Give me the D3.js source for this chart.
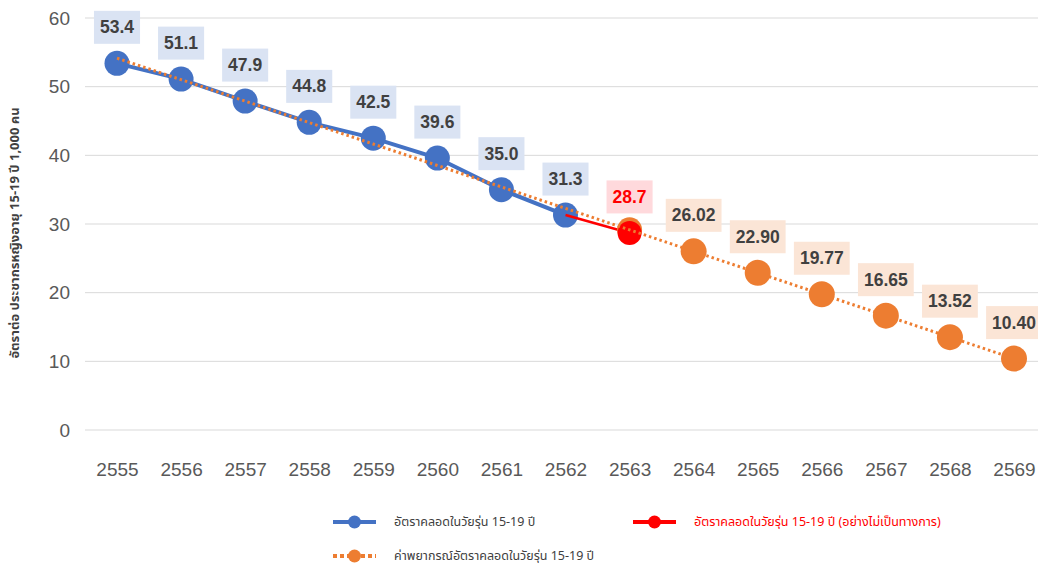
<!DOCTYPE html>
<meta charset="utf-8">
<style>
body { margin: 0; background: #fff; }
text { font-family: "Liberation Sans", Arial, sans-serif; }
</style>
<body>
<script src="https://cdn.jsdelivr.net/npm/d3@7/dist/d3.min.js"></script>
<script>

// data
var years = ["2555","2556","2557","2558","2559","2560","2561","2562","2563","2564","2565","2566","2567","2568","2569"];
var actual = [53.4, 51.1, 47.9, 44.8, 42.5, 39.6, 35.0, 31.3];          // 2555-2562
var unofficial = [31.3, 28.7];                                           // 2562-2563
var forecast = [54.15, 51.02, 47.90, 44.77, 41.65, 38.52, 35.40, 32.27,
                29.15, 26.02, 22.90, 19.77, 16.65, 13.52, 10.40];        // trend line
var forecastLabels = ["26.02","22.90","19.77","16.65","13.52","10.40"]; // 2564-2569
var yTicks = [0, 10, 20, 30, 40, 50, 60];

var thai = "Tahoma, 'Noto Sans Thai', 'Leelawadee UI', sans-serif";

var width = 1038, height = 566;

var svg = d3.select("body").append("svg")
    .attr("width", width)
    .attr("height", height);

var x = d3.scalePoint().domain(years).range([117, 1014]);
var y = d3.scaleLinear().domain([0, 60]).range([430, 18]);

// gridlines
svg.append("g")
    .selectAll("line")
    .data(yTicks)
  .enter().append("line")
    .attr("x1", 85).attr("x2", 1038)
    .attr("y1", function(d) { return y(d); })
    .attr("y2", function(d) { return y(d); })
    .style("stroke", "#d9d9d9")
    .style("stroke-width", 1);

// y axis labels
var yAxis = svg.append("g")
    .attr("transform", "translate(70,0)")
    .call(d3.axisLeft(y).tickValues(yTicks).tickSize(0).tickPadding(0));
yAxis.select(".domain").remove();
yAxis.selectAll("text")
    .style("font-size", "19px")
    .style("font-family", "'Liberation Sans', Arial, sans-serif")
    .style("fill", "#595959");

// x axis labels
var xAxis = svg.append("g")
    .attr("transform", "translate(0,462)")
    .call(d3.axisBottom(x).tickSize(0).tickPadding(0));
xAxis.select(".domain").remove();
xAxis.selectAll("text")
    .style("font-size", "19px")
    .style("font-family", "'Liberation Sans', Arial, sans-serif")
    .style("fill", "#595959");

// y axis title
svg.append("text")
    .attr("text-anchor", "middle")
    .attr("transform", "translate(19,233)rotate(-90)")
    .style("font-family", thai)
    .style("font-size", "13px")
    .style("font-weight", "bold")
    .style("fill", "#404040")
    .text("อัตราต่อ ประชากรหญิงอายุ 15-19 ปี 1,000 คน");

var line = d3.line()
    .x(function(d) { return x(d.year); })
    .y(function(d) { return y(d.v); });

var actualData = actual.map(function(v, i) { return {year: years[i], v: v}; });
var unofficialData = unofficial.map(function(v, i) { return {year: years[7 + i], v: v}; });
var forecastData = forecast.map(function(v, i) { return {year: years[i], v: v}; });

// blue series
svg.append("path")
    .datum(actualData)
    .attr("d", line)
    .style("fill", "none")
    .style("stroke", "#4472c4")
    .style("stroke-width", 4);

svg.selectAll(".dot-blue")
    .data(actualData)
  .enter().append("circle")
    .attr("class", "dot-blue")
    .attr("r", 12.5)
    .attr("cx", function(d) { return x(d.year); })
    .attr("cy", function(d) { return y(d.v); })
    .style("fill", "#4472c4");

// red series
svg.append("path")
    .datum(unofficialData)
    .attr("d", line)
    .style("fill", "none")
    .style("stroke", "#ff0000")
    .style("stroke-width", 2.5);

// forecast marker under the red one
svg.append("circle")
    .attr("r", 12.5)
    .attr("cx", x(forecastData[8].year))
    .attr("cy", y(forecastData[8].v))
    .style("fill", "#ed7d31");

svg.append("circle")
    .attr("r", 12)
    .attr("cx", x(unofficialData[1].year))
    .attr("cy", y(unofficialData[1].v))
    .style("fill", "#ff0000");

// forecast dotted line
svg.append("path")
    .datum(forecastData)
    .attr("d", line)
    .style("fill", "none")
    .style("stroke", "#ed7d31")
    .style("stroke-width", 3)
    .style("stroke-dasharray", "2.5,3");

svg.selectAll(".dot-orange")
    .data(forecastData.slice(9))
  .enter().append("circle")
    .attr("class", "dot-orange")
    .attr("r", 13)
    .attr("cx", function(d) { return x(d.year); })
    .attr("cy", function(d) { return y(d.v); })
    .style("fill", "#ed7d31");

// data labels
var labels = [];
actualData.forEach(function(d) {
  labels.push({year: d.year, v: d.v, text: d.v.toFixed(1), bg: "#dae3f3", color: "#404040"});
});
labels.push({year: "2563", v: 28.7, text: "28.7", bg: "#ffd9dc", color: "#ff0000"});
forecastLabels.forEach(function(t, i) {
  labels.push({year: years[9 + i], v: forecast[9 + i], text: t, bg: "#fbe5d6", color: "#404040"});
});

var lab = svg.selectAll(".lab")
    .data(labels)
  .enter().append("g")
    .attr("class", "lab")
    .attr("transform", function(d) { return "translate(" + x(d.year) + "," + (y(d.v) - 36) + ")"; });

lab.append("text")
    .attr("text-anchor", "middle")
    .attr("dy", "0.35em")
    .style("font-size", "17.5px")
    .style("font-weight", "bold")
    .style("fill", function(d) { return d.color; })
    .text(function(d) { return d.text; })
    .each(function(d) { d.w = this.getComputedTextLength(); });

lab.insert("rect", "text")
    .attr("x", function(d) { return -d.w / 2 - 6; })
    .attr("y", -16.5)
    .attr("width", function(d) { return d.w + 12; })
    .attr("height", 33)
    .style("fill", function(d) { return d.bg; });

// legend
var legendItems = [
  {x: 333, y: 522, color: "#4472c4", dash: null, text: "อัตราคลอดในวัยรุ่น 15-19 ปี", tc: "#404040"},
  {x: 633, y: 522, color: "#ff0000", dash: null, text: "อัตราคลอดในวัยรุ่น 15-19 ปี (อย่างไม่เป็นทางการ)", tc: "#ff0000"},
  {x: 333, y: 556, color: "#ed7d31", dash: "4,3", text: "ค่าพยากรณ์อัตราคลอดในวัยรุ่น 15-19 ปี", tc: "#404040"}
];

var leg = svg.selectAll(".leg")
    .data(legendItems)
  .enter().append("g")
    .attr("class", "leg")
    .attr("transform", function(d) { return "translate(" + d.x + "," + d.y + ")"; });

leg.append("line")
    .attr("x1", 0).attr("x2", 43)
    .style("stroke", function(d) { return d.color; })
    .style("stroke-width", 4)
    .style("stroke-dasharray", function(d) { return d.dash; });

leg.append("circle")
    .attr("cx", 21.5)
    .attr("r", 6.5)
    .style("fill", function(d) { return d.color; });

leg.append("text")
    .attr("x", 61)
    .attr("dy", "0.35em")
    .style("font-family", thai)
    .style("font-size", "12.5px")
    .style("fill", function(d) { return d.tc; })
    .text(function(d) { return d.text; });

</script>
</body>
